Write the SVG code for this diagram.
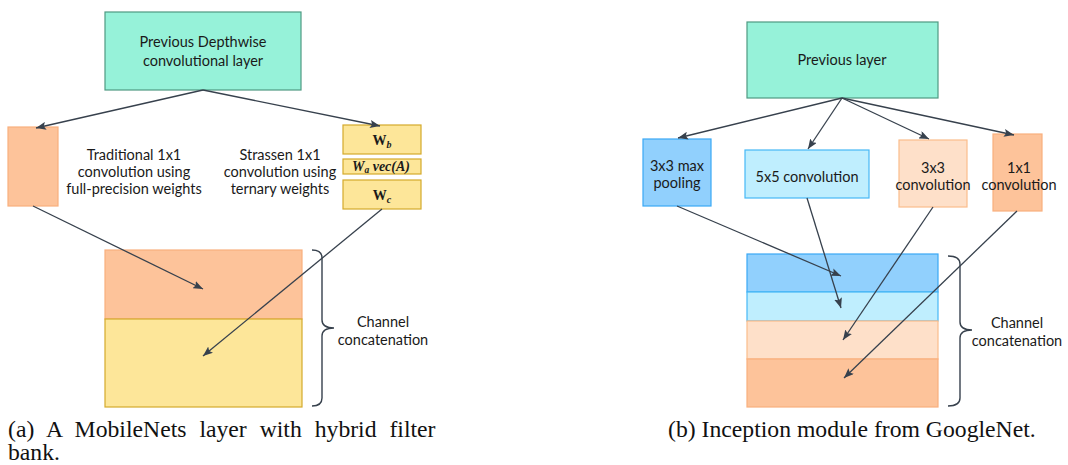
<svg xmlns="http://www.w3.org/2000/svg" width="1068" height="465" viewBox="0 0 1068 465">
  <defs>
    <marker id="arrow" viewBox="0 0 10 8" refX="10" refY="4" markerWidth="10" markerHeight="8" markerUnits="userSpaceOnUse" orient="auto">
      <path d="M0,0 L10,4 L0,8 L2,4 Z" fill="#37414d"/>
    </marker>
  </defs>
  <style>
    .lbl { font-family: Lato, "Open Sans", "Liberation Sans", sans-serif; font-size: 14.5px; fill: #1a1a1a; text-anchor: middle; }
    .math { font-family: "Liberation Serif", "DejaVu Serif", serif; font-size: 14px; font-weight: bold; fill: #1a1a1a; text-anchor: middle; }
    .cap { font-family: "Liberation Serif", "Times New Roman", serif; font-size: 23.7px; fill: #111; }
    .edge { stroke: #37414d; stroke-width: 1.3; fill: none; marker-end: url(#arrow); }
    .brace { stroke: #37414d; stroke-width: 1.4; fill: none; }
    .teal { fill: #96f2d9; stroke: #4f9a82; stroke-width: 1.2; }
    .peach { fill: #fdc39a; stroke: #f9b07e; stroke-width: 1.2; }
    .lightpeach { fill: #fee0c9; stroke: #fbbd8c; stroke-width: 1.2; }
    .gold { fill: #fde699; stroke: #d4aa2c; stroke-width: 1.2; }
    .blue { fill: #91d0fd; stroke: #3aa8f5; stroke-width: 1.2; }
    .lightblue { fill: #bfeefe; stroke: #46b8f6; stroke-width: 1.2; }
  </style>

  <!-- (a) MobileNets layer with hybrid filter bank -->
  <g id="a-prev">
    <rect class="teal" x="105" y="12" width="196" height="78"/>
    <text class="lbl" x="203" y="47">Previous Depthwise</text>
    <text class="lbl" x="203" y="66">convolutional layer</text>
  </g>
  <g id="a-traditional">
    <rect class="peach" x="8" y="127" width="50" height="79"/>
    <text class="lbl" x="134" y="160">Traditional 1x1</text>
    <text class="lbl" x="134" y="177">convolution using</text>
    <text class="lbl" x="134" y="194">full-precision weights</text>
  </g>
  <g id="a-strassen">
    <text class="lbl" x="280" y="160">Strassen 1x1</text>
    <text class="lbl" x="280" y="177">convolution using</text>
    <text class="lbl" x="280" y="194">ternary weights</text>
    <rect class="gold" x="343" y="125" width="78" height="29"/>
    <text class="math" x="382" y="145">W<tspan font-size="10" font-style="italic" dy="3">b</tspan></text>
    <rect class="gold" x="343" y="159" width="78" height="15"/>
    <text class="math" x="381" y="171" font-style="italic" font-size="13">W<tspan font-size="9.5" dy="2">a</tspan><tspan dy="-2" font-weight="normal"> </tspan>vec(A)</text>
    <rect class="gold" x="343" y="180" width="78" height="29"/>
    <text class="math" x="382" y="200">W<tspan font-size="10" font-style="italic" dy="3">c</tspan></text>
  </g>
  <g id="a-concat">
    <rect class="peach" x="105" y="250" width="197" height="69"/>
    <rect class="gold" x="105" y="319" width="197" height="88"/>
    <path class="brace" d="M312,250 Q322,250 322,258 L322,320 Q322,328 334,328 Q322,328 322,336 L322,398 Q322,406 312,406"/>
    <text class="lbl" x="383" y="327">Channel</text>
    <text class="lbl" x="383" y="345">concatenation</text>
  </g>

  <!-- (b) Inception module -->
  <g id="b-prev">
    <rect class="teal" x="747" y="22" width="191" height="76"/>
    <text class="lbl" x="842" y="65">Previous layer</text>
  </g>
  <g id="b-pool">
    <rect class="blue" x="643" y="139" width="68" height="67"/>
    <text class="lbl" x="677" y="171">3x3 max</text>
    <text class="lbl" x="677" y="188">pooling</text>
  </g>
  <g id="b-conv5">
    <rect class="lightblue" x="745" y="150" width="124" height="48"/>
    <text class="lbl" x="807" y="182">5x5 convolution</text>
  </g>
  <g id="b-conv3">
    <rect class="lightpeach" x="899" y="140" width="68" height="67"/>
    <text class="lbl" x="933" y="173">3x3</text>
    <text class="lbl" x="933" y="190">convolution</text>
  </g>
  <g id="b-conv1">
    <rect class="peach" x="993" y="134" width="49" height="77"/>
    <text class="lbl" x="1019" y="173">1x1</text>
    <text class="lbl" x="1019" y="190">convolution</text>
  </g>
  <g id="b-concat">
    <rect class="blue" x="747" y="254" width="191" height="38"/>
    <rect class="lightblue" x="747" y="292" width="191" height="29"/>
    <rect class="lightpeach" x="747" y="321" width="191" height="38"/>
    <rect class="peach" x="747" y="359" width="191" height="48"/>
    <path class="brace" d="M948,256 Q960,256 960,264 L960,322 Q960,330 972,330 Q960,330 960,338 L960,398 Q960,406 948,406"/>
    <text class="lbl" x="1017" y="328">Channel</text>
    <text class="lbl" x="1017" y="346">concatenation</text>
  </g>

  <g id="connectors">
    <line class="edge" x1="203" y1="90" x2="36" y2="128"/>
    <line class="edge" x1="203" y1="90" x2="380" y2="126"/>
    <line class="edge" x1="33" y1="206" x2="203" y2="289"/>
    <line class="edge" x1="382" y1="209" x2="203" y2="356"/>
    <line class="edge" x1="842" y1="98" x2="678" y2="138"/>
    <line class="edge" x1="842" y1="98" x2="808" y2="149"/>
    <line class="edge" x1="842" y1="98" x2="929" y2="139"/>
    <line class="edge" x1="842" y1="98" x2="1014" y2="135"/>
    <line class="edge" x1="677" y1="206" x2="841" y2="276"/>
    <line class="edge" x1="807" y1="198" x2="841" y2="308"/>
    <line class="edge" x1="933" y1="207" x2="843" y2="340"/>
    <line class="edge" x1="1017" y1="211" x2="844" y2="378"/>
  </g>

  <text class="cap" x="8" y="437" word-spacing="7">(a) A MobileNets layer with hybrid filter</text>
  <text class="cap" x="8" y="460">bank.</text>
  <text class="cap" x="668" y="437">(b) Inception module from GoogleNet.</text>
</svg>
